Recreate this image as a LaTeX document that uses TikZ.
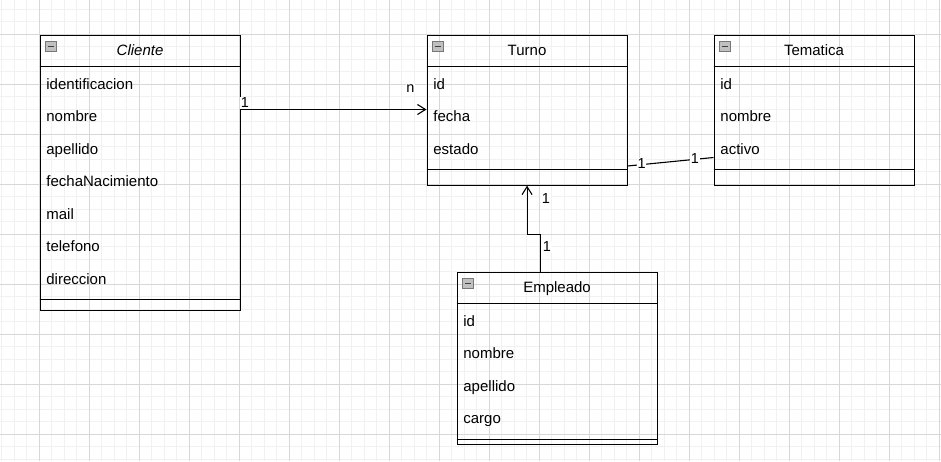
\documentclass[tikz,border=0pt]{standalone}
\usepackage{fontspec}
\setmainfont{Liberation Sans}
\usetikzlibrary{arrows.meta}
\definecolor{gridminor}{RGB}{241,241,241}
\definecolor{gridmajor}{RGB}{215,215,215}
\definecolor{iconfill}{RGB}{192,192,192}
\definecolor{iconline}{RGB}{120,120,120}
\begin{document}
\begin{tikzpicture}[x=1pt,y=-1pt,
  classbox/.style={draw=black, line width=1.1pt, rectangle, inner sep=0pt, anchor=north west, minimum width=200pt},
  divider/.style={draw=black, line width=1.1pt},
  title/.style={font=\fontsize{15}{18}\selectfont, inner sep=0pt, anchor=base},
  field/.style={font=\fontsize{15}{18}\selectfont, inner sep=0pt, anchor=base west},
  elabel/.style={font=\fontsize{14.5}{17}\selectfont, inner sep=0.6pt, fill=white},
  conn/.style={line width=1.1pt, draw=black},
  openarrow/.style={-{Straight Barb[length=8pt,width=10pt,line width=1.1pt]}},
  icon/.style={rectangle, draw=iconline, fill=iconfill, line width=0.6pt, minimum width=10.5pt, minimum height=9.5pt, inner sep=0pt,
    path picture={\draw[black!75, line width=1.4pt] ([xshift=2.2pt]path picture bounding box.west) -- ([xshift=-2.2pt]path picture bounding box.east);}},
  gminor/.style={draw=gridminor, line width=1pt},
  gmajor/.style={draw=gridmajor, line width=1pt}
]
\useasboundingbox (0,0) rectangle (941,461);
\fill[white] (0,0) rectangle (941,461);
% grid
\foreach \k in {0,...,75} \draw[gminor] ({1.8+12.5*\k},0) -- ++(0,461);
\foreach \k in {0,...,36} \draw[gminor] (0,{9.3+12.5*\k}) -- ++(941,0);
\foreach \k in {0,...,18} \draw[gmajor] ({39.3+50*\k},0) -- ++(0,461);
\foreach \k in {0,...,8} \draw[gmajor] (0,{34.3+50*\k}) -- ++(941,0);

% ---------- Cliente ----------
\node[classbox, minimum height=275pt] (cliente) at (39.5,34.5) {};
\draw[divider] (cliente.north west) ++(0,32) -- ++(200,0);
\draw[divider] (cliente.north west) ++(0,265) -- ++(200,0);
\node[icon] (cliente-i) at ([xshift=11.5pt,yshift=-12pt]cliente.north west) {};
\node[title, font=\fontsize{15}{18}\selectfont\itshape] (cliente-t) at ([yshift=-21.3pt]cliente.north) {Cliente};
\foreach \f [count=\i] in {identificacion,nombre,apellido,fechaNacimiento,mail,telefono,direccion}
  \node[field] (cliente-f\i) at ([xshift=6.7pt,yshift={-54.7pt-(\i-1)*32.5pt}]cliente.north west) {\f};

% ---------- Turno ----------
\node[classbox, minimum height=150pt] (turno) at (426.5,34.5) {};
\draw[divider] (turno.north west) ++(0,32) -- ++(200,0);
\draw[divider] (turno.north west) ++(0,135) -- ++(200,0);
\node[icon] (turno-i) at ([xshift=11.5pt,yshift=-12pt]turno.north west) {};
\node[title] (turno-t) at ([yshift=-21.3pt]turno.north) {Turno};
\foreach \f [count=\i] in {id,fecha,estado}
  \node[field] (turno-f\i) at ([xshift=6.7pt,yshift={-54.7pt-(\i-1)*32.5pt}]turno.north west) {\f};

% ---------- Tematica ----------
\node[classbox, minimum height=150pt] (tematica) at (713.5,34.5) {};
\draw[divider] (tematica.north west) ++(0,32) -- ++(200,0);
\draw[divider] (tematica.north west) ++(0,135) -- ++(200,0);
\node[icon] (tematica-i) at ([xshift=11.5pt,yshift=-12pt]tematica.north west) {};
\node[title] (tematica-t) at ([yshift=-21.3pt]tematica.north) {Tematica};
\foreach \f [count=\i] in {id,nombre,activo}
  \node[field] (tematica-f\i) at ([xshift=6.7pt,yshift={-54.7pt-(\i-1)*32.5pt}]tematica.north west) {\f};

% ---------- Empleado ----------
\node[classbox, minimum height=172pt] (empleado) at (456.5,271.5) {};
\draw[divider] (empleado.north west) ++(0,32) -- ++(200,0);
\draw[divider] (empleado.north west) ++(0,168) -- ++(200,0);
\node[icon] (empleado-i) at ([xshift=11.5pt,yshift=-12pt]empleado.north west) {};
\node[title] (empleado-t) at ([yshift=-21.3pt]empleado.north) {Empleado};
\foreach \f [count=\i] in {id,nombre,apellido,cargo}
  \node[field] (empleado-f\i) at ([xshift=6.7pt,yshift={-54.7pt-(\i-1)*32.5pt}]empleado.north west) {\f};

% ---------- connectors ----------
\draw[conn, openarrow] (cliente.east |- 0,109.5) -- (turno.west |- 0,109.5);
\node[elabel] (l-c1) at (245,103) {1};
\node[elabel] (l-cn) at (410.3,88.3) {n};

\draw[conn] (turno.east |- 0,166) -- (tematica.west |- 0,157.5);
\node[elabel] (l-t1) at (641.7,163.5) {1};
\node[elabel] (l-t2) at (695,158.3) {1};

\coordinate (ebend) at (540.5,234.5);
\draw[conn, openarrow] (ebend |- empleado.north) -- (ebend) -| (turno.south);
\node[elabel] (l-e1) at (546,199) {1};
\node[elabel] (l-e2) at (547,247) {1};
\end{tikzpicture}
\end{document}
